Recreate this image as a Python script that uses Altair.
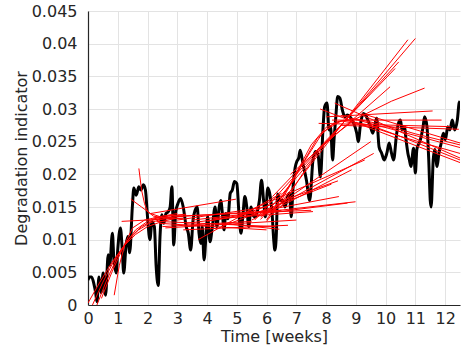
import altair as alt
import pandas as pd

# ---- black degradation indicator ----
time_wk = [0.00, 0.05, 0.12, 0.20, 0.26, 0.30, 0.37, 0.44, 0.51, 0.59, 0.68, 0.73, 0.82, 0.87, 0.95,
           1.00, 1.09, 1.15, 1.20, 1.28, 1.34, 1.40, 1.49, 1.54, 1.62, 1.71, 1.78, 1.86, 1.93,
           2.00, 2.08, 2.15, 2.23, 2.29, 2.36, 2.42, 2.48, 2.55, 2.62, 2.70, 2.76, 2.82, 2.88, 2.95,
           3.02, 3.11, 3.20, 3.30, 3.37, 3.45, 3.53, 3.60, 3.67, 3.73, 3.79, 3.84, 3.90, 3.97,
           4.02, 4.10, 4.18, 4.27, 4.33, 4.41, 4.46, 4.52, 4.57, 4.63, 4.70, 4.78, 4.85, 4.92,
           5.00, 5.08, 5.14, 5.21, 5.27, 5.34, 5.40, 5.48, 5.55, 5.60, 5.67, 5.76, 5.83, 5.90, 5.96,
           6.04, 6.10, 6.18, 6.24, 6.28, 6.33, 6.37, 6.45, 6.55, 6.62, 6.70, 6.77, 6.83, 6.89, 6.96,
           7.02, 7.08, 7.13, 7.22, 7.34, 7.45, 7.56, 7.65, 7.73, 7.81, 7.90, 7.95,
           8.03, 8.10, 8.15, 8.22, 8.27, 8.33, 8.39, 8.46, 8.55, 8.63, 8.71, 8.80, 8.91,
           9.03, 9.08, 9.16, 9.25, 9.34, 9.42, 9.47, 9.57, 9.65, 9.70, 9.78, 9.87, 9.95,
           10.04, 10.12, 10.20, 10.27, 10.36, 10.43, 10.50, 10.55, 10.63, 10.70, 10.75, 10.80, 10.85, 10.94,
           11.00, 11.05, 11.17, 11.26, 11.31, 11.39, 11.45, 11.50, 11.53, 11.60, 11.65, 11.73, 11.79, 11.87, 11.94,
           12.01, 12.09, 12.16, 12.24, 12.32, 12.41, 12.47, 12.50]
indicator = [0.0038, 0.0043, 0.0043, 0.0032, 0.0018, 0.0005, 0.0043, 0.0019, 0.0049, 0.0015, 0.0077, 0.0061, 0.0110, 0.0069, 0.0049,
             0.0085, 0.0118, 0.0085, 0.0049, 0.0092, 0.0105, 0.0080, 0.0150, 0.0179, 0.0168, 0.0181, 0.0176, 0.0184, 0.0176,
             0.0135, 0.0100, 0.0127, 0.0120, 0.0059, 0.0030, 0.0105, 0.0138, 0.0125, 0.0140, 0.0143, 0.0150, 0.0181, 0.0092, 0.0143,
             0.0155, 0.0163, 0.0150, 0.0120, 0.0110, 0.0084, 0.0130, 0.0145, 0.0150, 0.0110, 0.0094, 0.0120, 0.0069, 0.0110,
             0.0135, 0.0097, 0.0120, 0.0150, 0.0120, 0.0150, 0.0160, 0.0138, 0.0115, 0.0140, 0.0132, 0.0171, 0.0176, 0.0189,
             0.0186, 0.0135, 0.0110, 0.0140, 0.0166, 0.0148, 0.0120, 0.0150, 0.0137, 0.0135, 0.0140, 0.0160, 0.0191, 0.0160, 0.0135,
             0.0179, 0.0172, 0.0145, 0.0100, 0.0084, 0.0110, 0.0170, 0.0160, 0.0160, 0.0150, 0.0165, 0.0171, 0.0135, 0.0180, 0.0210,
             0.0220, 0.0225, 0.0237, 0.0217, 0.0191, 0.0160, 0.0222, 0.0235, 0.0230, 0.0196, 0.0273, 0.0303,
             0.0309, 0.0268, 0.0273, 0.0222, 0.0255, 0.0290, 0.0319, 0.0317, 0.0298, 0.0288, 0.0291, 0.0288, 0.0280,
             0.0263, 0.0250, 0.0278, 0.0293, 0.0290, 0.0281, 0.0276, 0.0263, 0.0278, 0.0286, 0.0242, 0.0232, 0.0222,
             0.0232, 0.0248, 0.0232, 0.0222, 0.0258, 0.0278, 0.0283, 0.0268, 0.0273, 0.0248, 0.0232, 0.0222, 0.0212, 0.0240,
             0.0202, 0.0238, 0.0253, 0.0273, 0.0288, 0.0273, 0.0222, 0.0160, 0.0150, 0.0222, 0.0238, 0.0212, 0.0232, 0.0248, 0.0263,
             0.0253, 0.0273, 0.0268, 0.0283, 0.0268, 0.0283, 0.0309, 0.0312]

# ---- red fitted trends: one id per fit, points along each fit ----
fit_id = []
fit_t = []
fit_v = []

def add_fit(name, ts, vs):
    for a, b in zip(ts, vs):
        fit_id.append(name)
        fit_t.append(a)
        fit_v.append(b)

# early saturating fits
add_fit("e1", [0.00, 0.4, 0.8, 1.2, 1.6, 2.0, 2.5, 3.0], [0.0003, 0.0035, 0.0065, 0.0090, 0.0108, 0.0120, 0.0128, 0.0133])
add_fit("e2", [0.15, 0.5, 0.9, 1.3, 1.7, 2.1, 2.6, 3.2], [0.0000, 0.0035, 0.0070, 0.0097, 0.0115, 0.0126, 0.0133, 0.0136])
add_fit("e3", [0.30, 0.6, 1.0, 1.4, 1.8, 2.2, 2.7, 3.3], [0.0000, 0.0035, 0.0075, 0.0103, 0.0120, 0.0130, 0.0136, 0.0139])
add_fit("e4", [0.45, 0.8, 1.2, 1.6, 2.0, 2.5, 3.0], [0.0010, 0.0050, 0.0090, 0.0115, 0.0128, 0.0136, 0.0140])
add_fit("e5", [0.88, 1.05, 1.25, 1.5, 1.9, 2.5, 3.2], [0.0015, 0.0060, 0.0095, 0.0118, 0.0130, 0.0136, 0.0138])
add_fit("e6", [1.71, 1.80, 1.90, 2.0, 2.2, 2.6, 3.2], [0.0209, 0.0176, 0.0155, 0.0143, 0.0136, 0.0133, 0.0132])
add_fit("e7", [1.44, 1.8, 2.1, 2.5, 3.0], [0.0162, 0.0150, 0.0140, 0.0134, 0.0132])
add_fit("e8", [1.13, 3.2], [0.0128, 0.0133])
# middle, nearly flat fits
add_fit("m1", [2.1, 4.97], [0.0140, 0.0162])
add_fit("m2", [2.2, 6.5], [0.0133, 0.0145])
add_fit("m3", [2.3, 6.3], [0.0128, 0.0120])
add_fit("m4", [2.4, 6.0], [0.0125, 0.0115])
add_fit("m5", [2.5, 5.5], [0.0120, 0.0128])
add_fit("m6", [2.6, 7.0], [0.0118, 0.0130])
add_fit("m7", [3.0, 7.5], [0.0136, 0.0145])
add_fit("m8", [3.7, 6.5], [0.0100, 0.0171])
add_fit("m9", [3.2, 6.72], [0.0115, 0.0122])
add_fit("m10", [3.5, 8.99], [0.0130, 0.0158])
add_fit("m11", [3.3, 8.72], [0.0125, 0.0156])
add_fit("m12", [4.0, 8.43], [0.0128, 0.0166])
add_fit("m13", [4.5, 8.18], [0.0120, 0.0185])
add_fit("m14", [4.2, 7.56], [0.0132, 0.0143])
add_fit("m15", [4.5, 6.43], [0.0125, 0.0116])
add_fit("m16", [3.0, 6.0], [0.0130, 0.0150])
# rising fits
add_fit("r1", [5.5, 9.6], [0.0130, 0.0232])
add_fit("r2", [5.8, 9.5], [0.0135, 0.0250])
add_fit("r3", [5.2, 9.3], [0.0140, 0.0222])
add_fit("r4", [6.0, 8.86], [0.0140, 0.0207])
add_fit("r5", [5.0, 8.4], [0.0135, 0.0190])
# steep fan
add_fit("s1", [5.8, 11.0], [0.0131, 0.0408])
add_fit("s2", [6.0, 10.75], [0.0128, 0.0406])
add_fit("s3", [5.6, 10.44], [0.0130, 0.0372])
add_fit("s4", [6.2, 10.32], [0.0166, 0.0362])
add_fit("s5", [6.8, 10.15], [0.0200, 0.0334])
add_fit("c1", [6.5, 7.2, 8.0, 9.0, 10.2, 11.31], [0.0150, 0.0200, 0.0250, 0.0285, 0.0312, 0.0332])
# late flat fits
add_fit("p1", [8.0, 11.58], [0.0288, 0.0297])
add_fit("p2", [7.75, 12.18], [0.0278, 0.0273])
add_fit("p3", [8.2, 11.88], [0.0283, 0.0283])
add_fit("p4", [8.5, 12.46], [0.0275, 0.0269])
# late declining fits
add_fit("d1", [6.0, 6.8, 7.5, 8.0, 8.6, 9.5, 10.5, 11.5, 12.5], [0.0130, 0.0185, 0.0245, 0.0272, 0.0283, 0.0275, 0.0258, 0.0240, 0.0222])
add_fit("d2", [6.3, 7.0, 7.7, 8.3, 9.0, 10.0, 11.0, 12.5], [0.0150, 0.0200, 0.0255, 0.0280, 0.0285, 0.0275, 0.0262, 0.0245])
add_fit("d3", [6.5, 7.2, 7.9, 8.5, 9.5, 10.5, 12.5], [0.0160, 0.0215, 0.0265, 0.0282, 0.0273, 0.0258, 0.0232])
add_fit("d4", [8.29, 12.5], [0.0309, 0.0225])
add_fit("d5", [9.2, 12.5], [0.0293, 0.0248])
add_fit("d6", [8.5, 12.5], [0.0290, 0.0241])
add_fit("d7", [7.8, 12.5], [0.0300, 0.0218])

x_ticks = list(range(0, 13))
y_ticks = [0, 0.005, 0.01, 0.015, 0.02, 0.025, 0.03, 0.035, 0.04, 0.045]

black_df = pd.DataFrame({"t": time_wk, "v": indicator})
fit_df = pd.DataFrame({"id": fit_id, "t": fit_t, "v": fit_v})

x_enc = alt.X("t:Q", scale=alt.Scale(domain=[0, 12.5], nice=False, zero=False),
              axis=alt.Axis(values=x_ticks, title="Time [weeks]", titleY=36.5,
                            titleBaseline="alphabetic", labelPadding=5, format="d",
                            labelOverlap=False, labelFlush=False, tickCount=13))
y_enc = alt.Y("v:Q", scale=alt.Scale(domain=[0, 0.045], nice=False),
              axis=alt.Axis(values=y_ticks, title="Degradation indicator", format="~g",
                            titleX=-62, titleBaseline="alphabetic", labelPadding=11,
                            labelOverlap=False, labelFlush=False, tickCount=10))

black = alt.Chart(black_df).mark_line(color="black", strokeWidth=3, clip=True,
                                      interpolate="monotone", strokeJoin="round").encode(x=x_enc, y=y_enc)
fits = alt.Chart(fit_df).mark_line(color="#ff0000", strokeWidth=1, clip=True).encode(
    x=x_enc, y=y_enc, detail="id:N")

chart = alt.layer(black, fits).properties(
    width=372, height=294,
    autosize=alt.AutoSizeParams(type="none"),
    padding={"left": 88, "top": 11, "right": 1, "bottom": 42},
).configure_view(stroke=None).configure_axis(
    labelFont="DejaVu Sans", labelFontSize=16, labelColor="#262626",
    titleFont="DejaVu Sans", titleFontSize=16, titleColor="#262626", titleFontWeight="normal",
    domainColor="#262626", domainWidth=1.2, gridColor="#e3e3e3", gridWidth=1,
    ticks=False, tickSize=0, labelOverlap=False, labelFlush=False,
)

chart.save("out.html", embed_options={"renderer": "svg", "actions": False})
